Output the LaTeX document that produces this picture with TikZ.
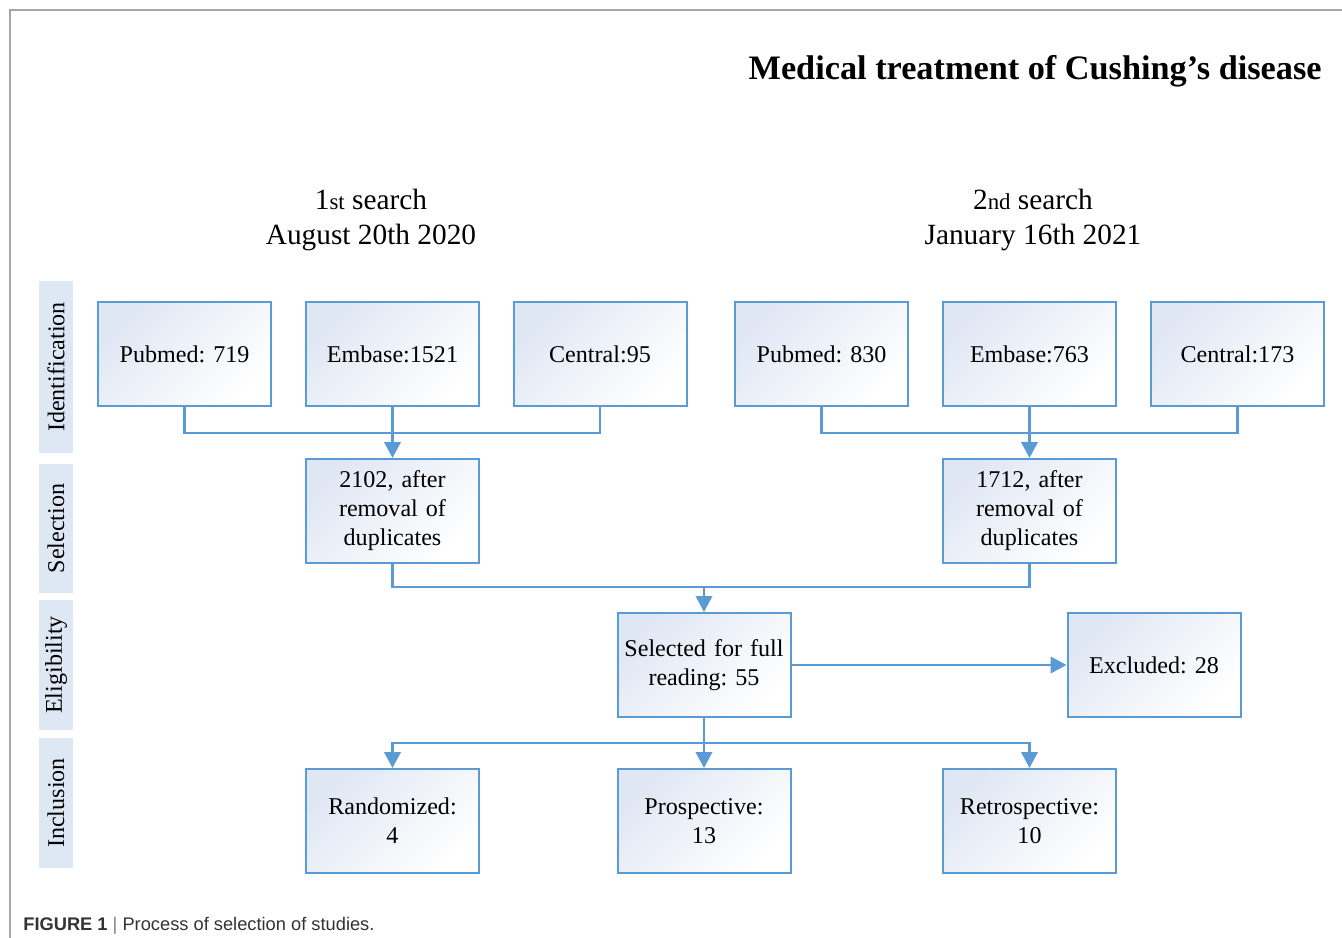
\documentclass[tikz,border=0pt]{standalone}
\usepackage{fontspec}
\setmainfont{Liberation Serif}
\newfontfamily\capfont{Liberation Sans}
\usetikzlibrary{arrows.meta}
\definecolor{boxblue}{HTML}{5B9BD5}
\definecolor{stagefill}{HTML}{DEE8F4}
\definecolor{shadeblue}{HTML}{E0E7F4}
\definecolor{framegray}{HTML}{A6A6A6}
\newcommand{\boxfont}{\fontsize{13.7}{16.5}\selectfont}
\newcommand{\smallst}[1]{{\fontsize{13}{16}\selectfont #1}}
\frenchspacing

\begin{document}
\begin{tikzpicture}[x=0.2mm,y=-0.2mm,
  box/.style={draw=boxblue,line width=0.4mm,top color=shadeblue,bottom color=white,shading angle=45,
    minimum width=34.6mm,minimum height=20.8mm,text width=32mm,align=center,inner sep=0pt,font=\boxfont},
  stage/.style={fill=stagefill,minimum height=6.8mm,inner sep=0pt,rotate=90,font=\boxfont},
  link/.style={draw=boxblue,line width=0.45mm},
  arrow/.style={link,-{Triangle[width=3.3mm,length=3.2mm]}}]
\useasboundingbox (0,0) rectangle (1342,938);
\draw[framegray,line width=0.3mm] (10,938) -- (10,10) -- (1342,10);
\node[anchor=base east,inner sep=0pt,font=\fontsize{19.5}{23}\selectfont\bfseries] (T) at (1322,80) {Medical treatment of Cushing’s disease};
\node[align=center,font=\fontsize{16.7}{19.9}\selectfont] (H1) at (371,220) {1\smallst{st} search\\August 20th 2020};
\node[align=center,font=\fontsize{16.7}{19.9}\selectfont] (H2) at (1033,220) {2\smallst{nd} search\\January 16th 2021};
\node[stage,minimum width=34.4mm] (L1) at (56,367) {Identification};
\node[stage,minimum width=25.8mm] (L2) at (56,528.5) {Selection};
\node[stage,minimum width=26mm] (L3) at (56,665) {Eligibility};
\node[stage,minimum width=26mm] (L4) at (56,803) {Inclusion};
\node[box] (I1) at (184.5,354) {Pubmed: 719};
\node[box] (I2) at (392.5,354) {Embase:1521};
\node[box] (I3) at (600,354) {Central:95};
\node[box] (I4) at (821.5,354) {Pubmed: 830};
\node[box] (I5) at (1029.5,354) {Embase:763};
\node[box] (I6) at (1237.5,354) {Central:173};
\node[box] (S1) at (392.5,511) {2102, after\\removal of\\duplicates};
\node[box] (S2) at (1029.5,511) {1712, after\\removal of\\duplicates};
\node[box] (E1) at (704,665) {Selected for full\\reading: 55};
\node[box] (E2) at (1154,665) {Excluded: 28};
\node[box] (R1) at (392.5,821) {Randomized:\\4};
\node[box] (R2) at (704,821) {Prospective:\\13};
\node[box] (R3) at (1029.5,821) {Retrospective:\\10};
\coordinate (J1) at (392.5,433);
\coordinate (J2) at (1029.5,433);
\coordinate (J3) at (704,587);
\coordinate (J4) at (704,743);
\draw[link] (I1.south) |- (J1) -| (I3.south);
\draw[link] (I4.south) |- (J2) -| (I6.south);
\draw[arrow] (I2) -- (S1);
\draw[arrow] (I5) -- (S2);
\draw[link] (S1.south) |- (J3) -| (S2.south);
\draw[arrow] (J3) -- (E1);
\draw[arrow] (E1) -- (E2);
\draw[link] (E1) -- (J4);
\draw[arrow] (J4) -| (R1.north);
\draw[arrow] (J4) -- (R2);
\draw[arrow] (J4) -| (R3.north);
\node[anchor=base west,inner sep=0pt,font=\capfont\fontsize{10.4}{12}\selectfont,text=black!80] (C) at (23,930) {\textbf{FIGURE 1} {\color{black!50}|} Process of selection of studies.};
\end{tikzpicture}
\end{document}
